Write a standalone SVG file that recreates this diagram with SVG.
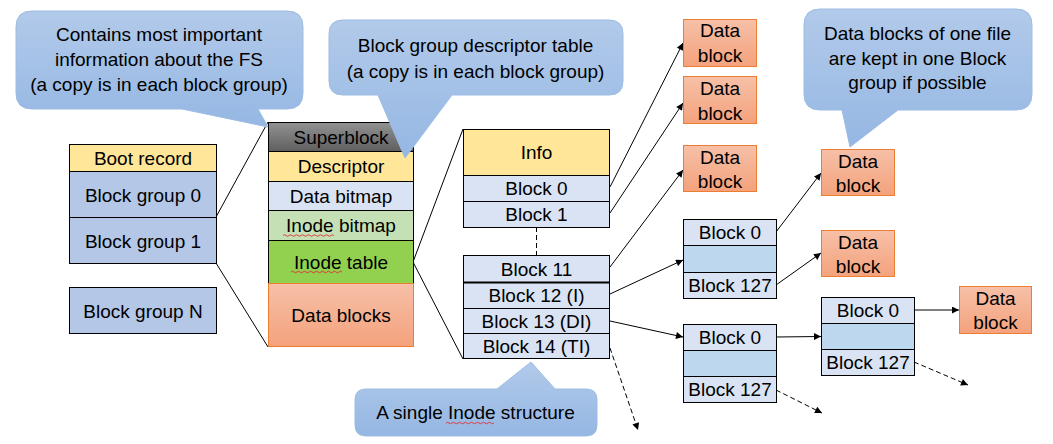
<svg xmlns="http://www.w3.org/2000/svg" width="1053" height="444" viewBox="0 0 1053 444">
<style>
text{font-family:"Liberation Sans",Arial,sans-serif;font-size:19px;fill:#000;text-anchor:middle}
.b{stroke:#000;stroke-width:1}
.bg{fill:#B4C7E7}
.br{fill:#FFE699}
.lb{fill:#DAE3F3}
.mb{fill:#BDD7EE}
.db{fill:url(#gOr);stroke:#ED7D31;stroke-width:1}
.co{fill:url(#gBl);stroke:#9DBCE4;stroke-width:1}
.ln{stroke:#000;stroke-width:1;fill:none}
.ar{stroke:#000;stroke-width:1;fill:none;marker-end:url(#ah)}
.da{stroke:#000;stroke-width:1;fill:none;stroke-dasharray:5,3;marker-end:url(#ah)}
.sp{stroke:#E03030;stroke-width:0.9;fill:none}
</style>
<defs>
<linearGradient id="gOr" x1="0" y1="0" x2="0" y2="1"><stop offset="0" stop-color="#F6C0A8"/><stop offset="1" stop-color="#F4A27C"/></linearGradient>
<linearGradient id="gBl" x1="0" y1="0" x2="0" y2="1"><stop offset="0" stop-color="#B2CAEA"/><stop offset="1" stop-color="#95B7E3"/></linearGradient>
<linearGradient id="gGr" x1="0" y1="0" x2="0" y2="1"><stop offset="0" stop-color="#929292"/><stop offset="1" stop-color="#5E5E5E"/></linearGradient>
<marker id="ah" viewBox="0 0 10 10" refX="10" refY="5" markerWidth="8" markerHeight="7" markerUnits="userSpaceOnUse" orient="auto"><path d="M0,0 L10,5 L0,10 Z" fill="#000"/></marker>
</defs>
<rect width="1053" height="444" fill="#fff"/>

<g id="connectors">
<line class="ln" x1="216" y1="217" x2="268" y2="122"/>
<line class="ln" x1="216" y1="263" x2="268" y2="347"/>
<line class="ln" x1="413" y1="262" x2="463" y2="129"/>
<line class="ln" x1="413" y1="262" x2="463" y2="359"/>
<line class="ln" x1="536.5" y1="227" x2="536.5" y2="255" stroke-dasharray="5,3"/>
<line class="ar" x1="610" y1="187" x2="683" y2="43"/>
<line class="ar" x1="610" y1="213" x2="683" y2="103"/>
<line class="ar" x1="610" y1="267" x2="683" y2="170"/>
<line class="ar" x1="610" y1="294" x2="683" y2="260"/>
<line class="ar" x1="610" y1="321" x2="683" y2="337"/>
<line class="da" x1="610" y1="348" x2="638" y2="430"/>
<line class="ar" x1="776" y1="232" x2="821" y2="173"/>
<line class="ar" x1="776" y1="285" x2="821" y2="253"/>
<line class="ar" x1="776" y1="337" x2="821" y2="336.5"/>
<line class="da" x1="776" y1="390" x2="822" y2="413"/>
<line class="ar" x1="914" y1="310" x2="959" y2="310"/>
<line class="da" x1="914" y1="362" x2="968" y2="385"/>
</g>

<g id="boot-record"><rect class="b br" x="69.5" y="144.5" width="147" height="27"/><text x="143" y="164.5">Boot record</text></g>
<g id="block-group-0"><rect class="b bg" x="69.5" y="171.5" width="147" height="46"/><text x="143" y="201.5">Block group 0</text></g>
<g id="block-group-1"><rect class="b bg" x="69.5" y="217.5" width="147" height="46"/><text x="143" y="247.5">Block group 1</text></g>
<g id="block-group-n"><rect class="b bg" x="69.5" y="287.5" width="147" height="46"/><text x="143" y="317.5">Block group N</text></g>

<g id="superblock"><rect class="b" fill="url(#gGr)" x="268.5" y="122.5" width="145" height="29"/><text x="341" y="143.5">Superblock</text></g>
<g id="descriptor"><rect class="b br" x="268.5" y="151.5" width="145" height="30"/><text x="341" y="173">Descriptor</text></g>
<g id="data-bitmap"><rect class="b lb" x="268.5" y="181.5" width="145" height="29"/><text x="341" y="202.5">Data bitmap</text></g>
<g id="inode-bitmap"><rect class="b" fill="#C5E0B4" x="268.5" y="210.5" width="145" height="30"/><text x="341" y="232">Inode bitmap</text><path class="sp" d="M283,235.5 q1.5,-1.5 3,0 t3,0 t3,0 t3,0 t3,0 t3,0 t3,0 t3,0 t3,0 t3,0 t3,0 t3,0 t3,0 t3,0 t3,0 t3,0 t3,0"/></g>
<g id="inode-table"><rect class="b" fill="#92D050" x="268.5" y="240.5" width="145" height="43"/><text x="341" y="268.5">Inode table</text><path class="sp" d="M291,272 q1.5,-1.5 3,0 t3,0 t3,0 t3,0 t3,0 t3,0 t3,0 t3,0 t3,0 t3,0 t3,0 t3,0 t3,0 t3,0 t3,0 t3,0 t3,0"/></g>
<g id="data-blocks"><rect class="db" x="268.5" y="283.5" width="145" height="63"/><text x="341" y="321.5">Data blocks</text></g>

<g id="inode-structure">
<rect class="b br" x="463.5" y="129.5" width="146" height="46"/><text x="536.5" y="159">Info</text>
<rect class="b lb" x="463.5" y="175.5" width="146" height="26"/><text x="536.5" y="195">Block 0</text>
<rect class="b lb" x="463.5" y="201.5" width="146" height="26"/><text x="536.5" y="221">Block 1</text>
<rect class="b lb" x="463.5" y="255.5" width="146" height="27"/><text x="536.5" y="275.5">Block 11</text>
<rect class="b lb" x="463.5" y="282.5" width="146" height="26"/><text x="536.5" y="302">Block 12 (I)</text>
<rect class="b lb" x="463.5" y="308.5" width="146" height="25"/><text x="536.5" y="327.5">Block 13 (DI)</text>
<rect class="b lb" x="463.5" y="333.5" width="146" height="25"/><text x="536.5" y="353">Block 14 (TI)</text>
<line x1="463.5" y1="282.5" x2="609.5" y2="282.5" stroke="#000" stroke-width="2"/>
</g>

<g id="data-block-1"><rect class="db" x="683.5" y="19.5" width="73" height="47"/><text x="720" y="37">Data</text><text x="720" y="61.5">block</text></g>
<g id="data-block-2"><rect class="db" x="683.5" y="76.5" width="73" height="47"/><text x="720" y="95">Data</text><text x="720" y="119.5">block</text></g>
<g id="data-block-3"><rect class="db" x="683.5" y="145.5" width="73" height="46"/><text x="720" y="163.5">Data</text><text x="720" y="187.5">block</text></g>
<g id="data-block-4"><rect class="db" x="821.5" y="149.5" width="73" height="46"/><text x="858" y="167.5">Data</text><text x="858" y="191.5">block</text></g>
<g id="data-block-5"><rect class="db" x="821.5" y="230.5" width="73" height="46"/><text x="858" y="248.5">Data</text><text x="858" y="272.5">block</text></g>
<g id="data-block-6"><rect class="db" x="959.5" y="286.5" width="72" height="47"/><text x="995.5" y="304.5">Data</text><text x="995.5" y="329">block</text></g>

<g id="indirect-block">
<rect class="b lb" x="683.5" y="219.5" width="93" height="26"/><text x="730" y="239">Block 0</text>
<rect class="b mb" x="683.5" y="245.5" width="93" height="27"/>
<rect class="b lb" x="683.5" y="272.5" width="93" height="26"/><text x="730" y="292">Block 127</text>
</g>
<g id="double-indirect-block">
<rect class="b lb" x="683.5" y="324.5" width="93" height="26"/><text x="730" y="344">Block 0</text>
<rect class="b mb" x="683.5" y="350.5" width="93" height="26"/>
<rect class="b lb" x="683.5" y="376.5" width="93" height="26"/><text x="730" y="396">Block 127</text>
</g>
<g id="second-level-block">
<rect class="b lb" x="821.5" y="297.5" width="93" height="26"/><text x="868" y="317">Block 0</text>
<rect class="b mb" x="821.5" y="323.5" width="93" height="26"/>
<rect class="b lb" x="821.5" y="349.5" width="93" height="26"/><text x="868" y="368.5">Block 127</text>
</g>

<g id="callout-superblock">
<path class="co" d="M32,11 H287 Q303,11 303,27 V93 Q303,109 287,109 H258 L268,127 L182,109 H32 Q16,109 16,93 V27 Q16,11 32,11 Z"/>
<text x="159" y="40.5">Contains most important</text>
<text x="159" y="65.5">information about the FS</text>
<text x="159" y="90.5">(a copy is in each block group)</text>
</g>
<g id="callout-descriptor">
<path class="co" d="M343,20 H609 Q623,20 623,34 V81 Q623,95 609,95 H452 L405,158 L378,95 H343 Q329,95 329,81 V34 Q329,20 343,20 Z"/>
<text x="475.5" y="52">Block group descriptor table</text>
<text x="475.5" y="77.5">(a copy is in each block group)</text>
</g>
<g id="callout-datablocks">
<path class="co" d="M820,9 H1016 Q1032,9 1032,25 V94 Q1032,110 1016,110 H898 L850,147 L842,110 H820 Q804,110 804,94 V25 Q804,9 820,9 Z"/>
<text x="917.5" y="40">Data blocks of one file</text>
<text x="917.5" y="64.5">are kept in one Block</text>
<text x="917.5" y="89">group if possible</text>
</g>
<g id="callout-inode">
<path class="co" d="M366,389 H497 L531,362 L555,389 H586 Q597,389 597,400 V425 Q597,436 586,436 H366 Q355,436 355,425 V400 Q355,389 366,389 Z"/>
<text x="475.5" y="419">A single Inode structure</text>
<path class="sp" d="M446,423 q1.5,-1.5 3,0 t3,0 t3,0 t3,0 t3,0 t3,0 t3,0 t3,0 t3,0 t3,0 t3,0 t3,0 t3,0 t3,0 t3,0 t3,0"/>
</g>
</svg>
